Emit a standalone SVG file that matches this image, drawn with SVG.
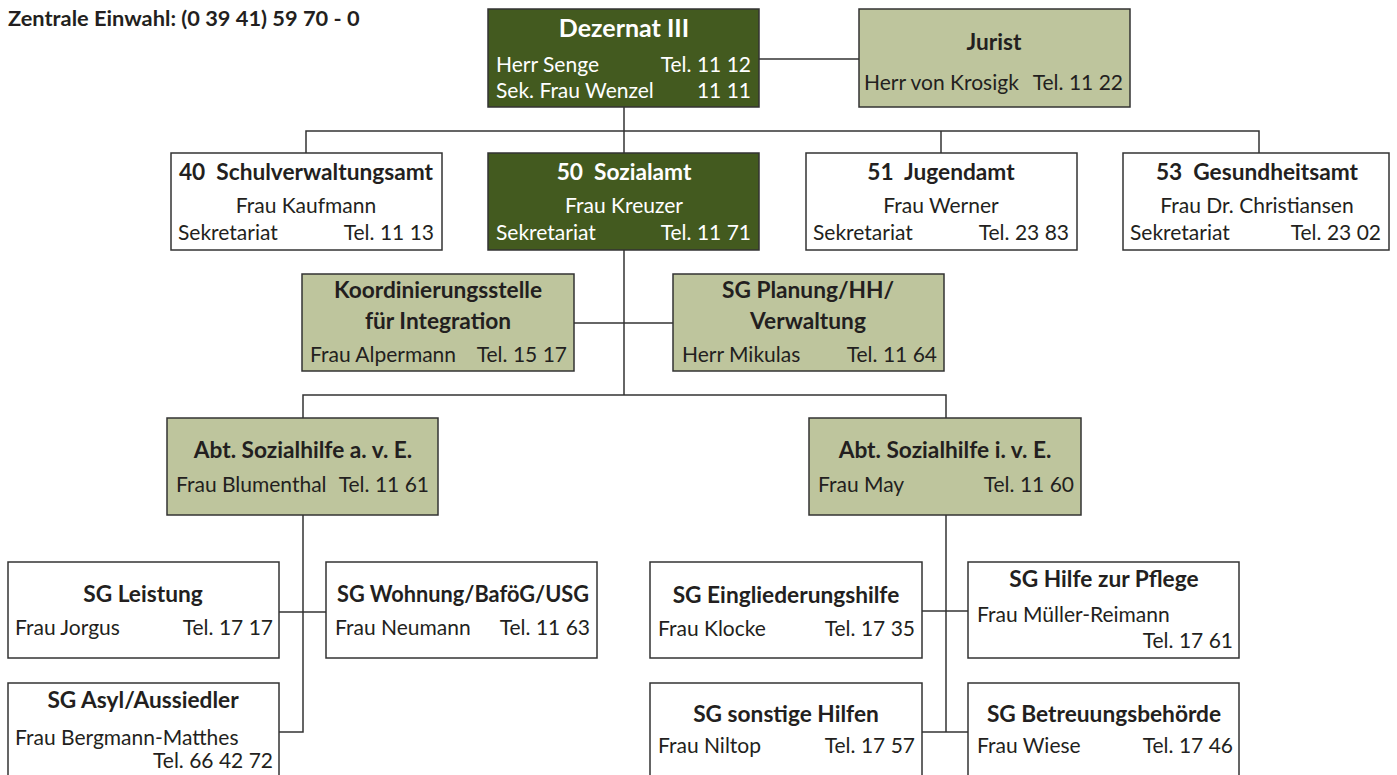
<svg xmlns="http://www.w3.org/2000/svg" width="1397" height="775" viewBox="0 0 1397 775">
<style>
text{font-family:Lato,"Open Sans","Liberation Sans",sans-serif;font-size:21px;fill:#231f20;white-space:pre}
.b{font-weight:bold;font-size:22.7px}
.c{text-anchor:middle}
.r{text-anchor:end}
.w{fill:#fff}
.dk{fill:#435a1f;stroke:#333;stroke-width:1.5}
.lt{fill:#bec59d;stroke:#333;stroke-width:1.5}
.wh{fill:#fff;stroke:#333;stroke-width:1.5}
.ln{fill:none;stroke:#333;stroke-width:1.5}
</style>
<rect width="1397" height="775" fill="#fff"/>
<text x="8" y="26" class="b" style="font-size:21.8px">Zentrale Einwahl: (0 39 41) 59 70 - 0</text>
<g id="connectors" class="ln">
<path class="ln" d="M759 59H859"/>
<path class="ln" d="M624 107V153"/>
<path class="ln" d="M306 153V131H1259V153"/>
<path class="ln" d="M941 131V153"/>
<path class="ln" d="M624 250V395"/>
<path class="ln" d="M574 323H673"/>
<path class="ln" d="M303 418V395H946V418"/>
<path class="ln" d="M303 515V732H279"/>
<path class="ln" d="M279 612H326"/>
<path class="ln" d="M946 515V732"/>
<path class="ln" d="M922 611H968"/>
<path class="ln" d="M922 732H968"/>
</g>
<g id="dezernat">
<rect class="dk" x="488" y="9" width="271" height="98"/>
<text class="b c w" x="624" y="37" style="font-size:25px">Dezernat III</text>
<text class="w" x="496" y="72">Herr Senge</text>
<text class="w r" x="751" y="72">Tel. 11 12</text>
<text class="w" x="496" y="98">Sek. Frau Wenzel</text>
<text class="w r" x="751" y="98">11 11</text>
</g>
<g id="jurist">
<rect class="lt" x="859" y="9" width="271" height="98"/>
<text class="b c" x="994" y="50">Jurist</text>
<text x="864" y="90">Herr von Krosigk</text>
<text class="r" x="1123" y="90">Tel. 11 22</text>
</g>
<g id="a40">
<rect class="wh" x="171" y="153" width="271" height="97"/>
<text class="b c" x="306" y="180">40  Schulverwaltungsamt</text>
<text class="c" x="306" y="213">Frau Kaufmann</text>
<text x="178" y="240">Sekretariat</text>
<text class="r" x="434" y="240">Tel. 11 13</text>
</g>
<g id="a50">
<rect class="dk" x="488" y="153" width="271" height="97"/>
<text class="b c w" x="624" y="180">50  Sozialamt</text>
<text class="c w" x="624" y="213">Frau Kreuzer</text>
<text class="w" x="496" y="240">Sekretariat</text>
<text class="w r" x="751" y="240">Tel. 11 71</text>
</g>
<g id="a51">
<rect class="wh" x="806" y="153" width="271" height="97"/>
<text class="b c" x="941" y="180">51  Jugendamt</text>
<text class="c" x="941" y="213">Frau Werner</text>
<text x="813" y="240">Sekretariat</text>
<text class="r" x="1069" y="240">Tel. 23 83</text>
</g>
<g id="a53">
<rect class="wh" x="1123" y="153" width="266" height="97"/>
<text class="b c" x="1257" y="180">53  Gesundheitsamt</text>
<text class="c" x="1257" y="213">Frau Dr. Christiansen</text>
<text x="1130" y="240">Sekretariat</text>
<text class="r" x="1381" y="240">Tel. 23 02</text>
</g>
<g id="koordinierung">
<rect class="lt" x="302" y="274" width="272" height="97"/>
<text class="b c" x="438" y="298">Koordinierungsstelle</text>
<text class="b c" x="438" y="329">für Integration</text>
<text x="310" y="362">Frau Alpermann</text>
<text class="r" x="567" y="362">Tel. 15 17</text>
</g>
<g id="planung">
<rect class="lt" x="673" y="274" width="271" height="97"/>
<text class="b c" x="808" y="298">SG Planung/HH/</text>
<text class="b c" x="808" y="329">Verwaltung</text>
<text x="682" y="362">Herr Mikulas</text>
<text class="r" x="937" y="362">Tel. 11 64</text>
</g>
<g id="abt-ave">
<rect class="lt" x="167" y="418" width="271" height="97"/>
<text class="b c" x="303" y="458">Abt. Sozialhilfe a. v. E.</text>
<text x="176" y="492">Frau Blumenthal</text>
<text class="r" x="429" y="492">Tel. 11 61</text>
</g>
<g id="abt-ive">
<rect class="lt" x="809" y="418" width="272" height="97"/>
<text class="b c" x="945" y="458">Abt. Sozialhilfe i. v. E.</text>
<text x="818" y="492">Frau May</text>
<text class="r" x="1074" y="492">Tel. 11 60</text>
</g>
<g id="sg-leistung">
<rect class="wh" x="8" y="562" width="271" height="96"/>
<text class="b c" x="143" y="602">SG Leistung</text>
<text x="15" y="635">Frau Jorgus</text>
<text class="r" x="273" y="635">Tel. 17 17</text>
</g>
<g id="sg-wohnung">
<rect class="wh" x="326" y="562" width="271" height="96"/>
<text class="b c" x="463" y="602" textLength="252" lengthAdjust="spacingAndGlyphs">SG Wohnung/BaföG/USG</text>
<text x="335" y="635">Frau Neumann</text>
<text class="r" x="590" y="635">Tel. 11 63</text>
</g>
<g id="sg-asyl">
<rect class="wh" x="8" y="683" width="271" height="120"/>
<text class="b c" x="143" y="708">SG Asyl/Aussiedler</text>
<text x="15" y="745">Frau Bergmann-Matthes</text>
<text class="r" x="273" y="768">Tel. 66 42 72</text>
</g>
<g id="sg-eingliederung">
<rect class="wh" x="650" y="562" width="272" height="96"/>
<text class="b c" x="786" y="603">SG Eingliederungshilfe</text>
<text x="658" y="636">Frau Klocke</text>
<text class="r" x="915" y="636">Tel. 17 35</text>
</g>
<g id="sg-pflege">
<rect class="wh" x="968" y="562" width="271" height="96"/>
<text class="b c" x="1104" y="587">SG Hilfe zur Pflege</text>
<text x="977" y="622">Frau Müller-Reimann</text>
<text class="r" x="1233" y="648">Tel. 17 61</text>
</g>
<g id="sg-sonstige">
<rect class="wh" x="650" y="683" width="272" height="120"/>
<text class="b c" x="786" y="722">SG sonstige Hilfen</text>
<text x="658" y="753">Frau Niltop</text>
<text class="r" x="915" y="753">Tel. 17 57</text>
</g>
<g id="sg-betreuung">
<rect class="wh" x="968" y="683" width="271" height="120"/>
<text class="b c" x="1104" y="722">SG Betreuungsbehörde</text>
<text x="977" y="753">Frau Wiese</text>
<text class="r" x="1233" y="753">Tel. 17 46</text>
</g>
</svg>
